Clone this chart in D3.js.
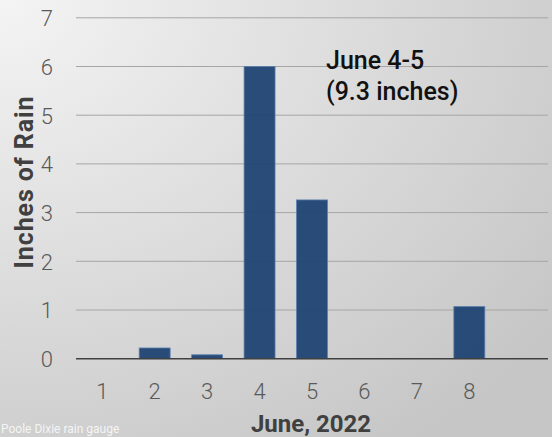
<!DOCTYPE html>
<html><head><meta charset="utf-8">
<script src="https://cdn.jsdelivr.net/npm/d3@7"></script>
<style>html,body{margin:0;padding:0;overflow:hidden;}svg{display:block;}</style>
</head><body>
<svg id="c" width="552" height="437"></svg>
<script>
const categories = ["1","2","3","4","5","6","7","8",""];
const rainfall = [0, 0.22, 0.08, 6.0, 3.26, 0, 0, 1.07, null];
const yTicks = [0,1,2,3,4,5,6,7];
const annotation = ["June 4-5", "(9.3 inches)"];
const xTitle = "June, 2022";
const yTitle = "Inches of Rain";
const credit = "Poole Dixie rain gauge";

const svg = d3.select("#c");
const W = 552, H = 437;
const defs = svg.append("defs");
const g = defs.append("radialGradient").attr("id","bg").attr("cx","0").attr("cy","0").attr("r","1.25").attr("gradientUnits","objectBoundingBox");
g.append("stop").attr("offset","0").attr("stop-color","#f4f4f4");
g.append("stop").attr("offset","1").attr("stop-color","#c6c6c6");
svg.append("rect").attr("width",W).attr("height",H).attr("fill","url(#bg)");

const m = {l:76, r:4, t:17.8, b:78.3};
const x = d3.scaleBand().domain(categories.map((d,i)=>i)).range([m.l, W-m.r]).paddingInner(0.41).paddingOuter(0.205);
const y = d3.scaleLinear().domain([0,7]).range([H-m.b, m.t]);

const font = "Roboto, 'Open Sans', sans-serif";
// gridlines
svg.append("g").selectAll("line").data(yTicks.filter(d=>d>0)).join("line")
  .attr("x1", m.l).attr("x2", W-m.r).attr("y1", d=>y(d)).attr("y2", d=>y(d))
  .attr("stroke","#a6a6a6").attr("stroke-width",1);

// bars
svg.append("g").selectAll("rect").data(rainfall.map((v,i)=>({v,i})).filter(d=>d.v>0)).join("rect")
  .attr("x", d=>x(d.i)).attr("width", x.bandwidth())
  .attr("y", d=>y(d.v)).attr("height", d=>y(0)-y(d.v))
  .attr("fill","#1f4373").attr("fill-opacity",0.95).attr("stroke","#5d7fae").attr("stroke-width",0.8);

// baseline
svg.append("line").attr("x1", m.l).attr("x2", W-m.r).attr("y1", y(0)).attr("y2", y(0))
  .attr("stroke","#404040").attr("stroke-width",1.5);

// y axis labels
const ya = d3.axisLeft(y).tickValues(yTicks).tickFormat(d3.format("d")).tickSize(0).tickPadding(0);
svg.append("g").attr("transform",`translate(${m.l-23},0)`).call(ya)
  .call(s=>s.select(".domain").remove())
  .selectAll("text").attr("font-family",font).attr("font-weight",300).attr("font-size",22).attr("fill","#595959").attr("dy","0.36em");

// x axis labels
const xa = d3.axisBottom(x).tickFormat(i=>categories[i]).tickSize(0).tickPadding(0);
svg.append("g").attr("transform",`translate(0,${y(0)+32})`).call(xa)
  .call(s=>s.select(".domain").remove())
  .selectAll("text").attr("font-family",font).attr("font-weight",300).attr("font-size",22).attr("fill","#595959").attr("dy","0.36em");

// titles
svg.append("text").attr("transform",`translate(33,182) rotate(-90)`).attr("text-anchor","middle")
  .attr("font-family",font).attr("font-weight","bold").attr("font-size",25).attr("letter-spacing",0.9).attr("fill","#404040").text(yTitle);
svg.append("text").attr("x",311).attr("y",432).attr("text-anchor","middle")
  .attr("font-family",font).attr("font-weight","bold").attr("font-size",24).attr("fill","#404040").text(xTitle);

// annotation
svg.append("g").selectAll("text").data(annotation).join("text")
  .attr("x",326).attr("y",(d,i)=>69+i*31)
  .attr("font-family",font).attr("font-weight",500).attr("font-size",25).attr("fill","#111").text(d=>d);

// credit
svg.append("text").attr("x",1).attr("y",433).attr("font-family",font).attr("font-size",12)
  .attr("fill","#ffffff").attr("fill-opacity",0.8).text(credit);
</script>
</body></html>
